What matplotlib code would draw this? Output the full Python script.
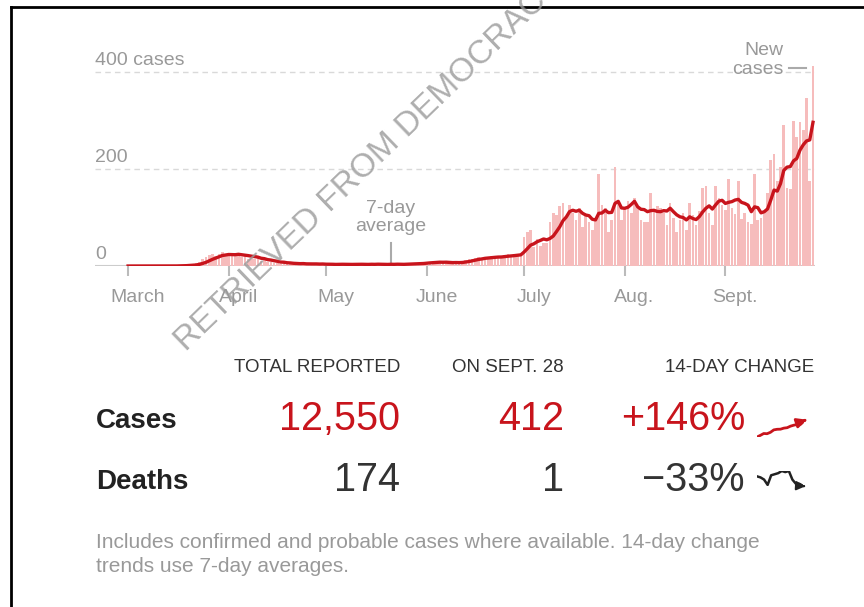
import matplotlib
matplotlib.use('Agg')
import matplotlib.pyplot as plt
import matplotlib.transforms as mtrans
from matplotlib.lines import Line2D
import pandas as pd

# daily new cases (one list per month)
cases_mar = [0, 0, 0, 0, 0, 0, 0, 0, 0, 0, 0, 0, 0, 0, 1, 0, 1, 2, 1, 3,
             2, 6, 9, 14, 18, 22, 25, 20, 24, 28, 22]
cases_apr = [25, 20, 24, 26, 18, 22, 15, 17, 14, 16, 10, 12, 8, 9, 7, 6, 5, 8, 4, 5,
             4, 5, 3, 6, 4, 3, 5, 4, 3, 4]
cases_may = [3, 4, 2, 3, 5, 4, 3, 2, 4, 3, 5, 4, 3, 2, 4, 3, 5, 4, 3, 2,
             4, 3, 5, 4, 3, 5, 4, 6, 5, 7, 6]
cases_jun = [8, 9, 7, 10, 8, 6, 7, 5, 6, 8, 9, 10, 12, 14, 15, 17, 18, 16, 19, 17,
             20, 18, 21, 19, 22, 24, 21, 25, 23, 27]
cases_jul = [60, 70, 75, 40, 55, 42, 48, 48, 90, 110, 105, 124, 130, 100, 126, 110, 95, 120, 80, 105,
             90, 75, 100, 190, 125, 120, 70, 94, 204, 130, 95]
cases_aug = [120, 135, 110, 140, 124, 95, 90, 90, 150, 115, 124, 120, 110, 85, 130, 100, 70, 95, 110, 75,
             130, 105, 85, 114, 160, 164, 110, 84, 165, 140, 125]
cases_sep = [115, 180, 120, 107, 175, 96, 110, 90, 86, 190, 95, 100, 113, 150, 218, 230, 175, 204, 290, 160,
             158, 300, 265, 296, 280, 346, 175, 412]

# 14-day trend of the deaths 7-day average (sparkline shape)
deaths_trend = [1.0, 0.95, 0.85, 0.6, 1.05, 1.1, 1.15, 1.25, 1.2, 1.25, 0.85, 0.65, 0.65, 0.55]

month_names = ['March', 'April', 'May', 'June', 'July', 'Aug.', 'Sept.']
grid_values = [0, 200, 400]
grid_labels = ['0', '200', '400 cases']

col_headers = ['TOTAL REPORTED', 'ON SEPT. 28', '14-DAY CHANGE']
row_labels = ['Cases', 'Deaths']
total_reported = ['12,550', '174']
on_sept_28 = ['412', '1']
change_14day = ['+146%', '\u221233%']
footnote = ['Includes confirmed and probable cases where available. 14-day change',
            'trends use 7-day averages.']

plt.rcParams['font.family'] = ['Liberation Sans', 'DejaVu Sans']

W, H = 864, 607
def fx(px):
    return px / W
def fy(py):
    return 1 - py / H

RED = '#c8141c'
BAR = '#f6bcbc'
GREY = '#999999'
DARK = '#333333'

daily = cases_mar + cases_apr + cases_may + cases_jun + cases_jul + cases_aug + cases_sep
dates = pd.date_range('2020-03-01', periods=len(daily), freq='D')
avg = pd.Series(daily, index=dates).rolling(7, min_periods=1).mean()

fig = plt.figure(figsize=(8.64, 6.07), dpi=100)

# chart area: 95..815 px wide, zero line at y=266 px, top at 60 px
day_px = 3.24
y_px = 0.485
ax = fig.add_axes([fx(95), fy(266), fx(815) - fx(95), fy(60) - fy(266)])
ax.set_xlim(dates[0] - pd.Timedelta(days=(128 - 95) / day_px),
            dates[-1] + pd.Timedelta(days=(815 - 813) / day_px))
ax.set_ylim(0, (266 - 60) / y_px)

def px_date(px):
    return dates[0] + pd.Timedelta(days=(px - 128) / day_px)

for v in grid_values[1:]:
    ax.axhline(v, color='#d9d9d9', lw=1, ls=(0, (4, 3)), zorder=0)
ax.axhline(0, color='#cccccc', lw=1.5, zorder=0)

ax.bar(dates, daily, width=0.82, color=BAR, linewidth=0, zorder=1)
ax.plot(dates, avg.values, color=RED, lw=2.4, solid_joinstyle='round', zorder=3)

ylab_tr = mtrans.blended_transform_factory(ax.transAxes, ax.transData)
for v, lab in zip(grid_values, grid_labels):
    ax.text(0, v + 24, lab, transform=ylab_tr, ha='left', va='center',
            fontsize=14, color=GREY)

for s in ax.spines.values():
    s.set_visible(False)
ax.set_yticks([])
month_starts = pd.date_range('2020-03-01', '2020-09-01', freq='MS')
ax.set_xticks(month_starts)
ax.set_xticklabels([])
ax.tick_params(axis='x', length=7, width=1.5, color='#bbbbbb')
xlab_tr = mtrans.blended_transform_factory(ax.transData, ax.transAxes)
for d, name in zip(month_starts, month_names):
    ax.text(d + pd.Timedelta(days=3), -(297 - 266) / 206, name, transform=xlab_tr,
            ha='center', va='center', fontsize=14, color=GREY)

# annotations
d7 = px_date(390)
ax.plot([d7, d7], [8, 47], color='#aaaaaa', lw=1.5)
ax.text(d7, 100, '7-day\naverage', ha='center', va='center', fontsize=14,
        color=GREY, linespacing=1.15)
ax.text(px_date(782), 425, 'New\ncases', ha='right', va='center', fontsize=14,
        color=GREY, linespacing=1.2, multialignment='right', clip_on=False)
ax.plot([px_date(788), px_date(805)], [408, 408], color='#aaaaaa', lw=1.5, clip_on=False)

# watermark
fig.text(fx(186), fy(352), 'RETRIEVED FROM DEMOCRACY', rotation=44,
         rotation_mode='anchor', ha='left', va='baseline', fontsize=24,
         color='#9a9a9a', alpha=0.8)

# table
for x, h in zip([400, 564, 814], col_headers):
    fig.text(fx(x), fy(367), h, ha='right', va='center', fontsize=13.5, color=DARK)
row_y = [421, 482]
row_col = [RED, DARK]
for i in range(2):
    fig.text(fx(96), fy(row_y[i]), row_labels[i], ha='left', va='center',
             fontsize=20, fontweight='bold', color='#222222')
    for x, val in zip([400, 564, 745], [total_reported[i], on_sept_28[i], change_14day[i]]):
        fig.text(fx(x), fy(row_y[i] - 2), val, ha='right', va='center',
                 fontsize=28.5, color=row_col[i])

# sparklines
sp1 = fig.add_axes([fx(757), fy(437), fx(804) - fx(757), fy(421) - fy(437)])
trend = avg.values[-15:]
sp1.plot(range(len(trend)), trend, color=RED, lw=2)
sp1.annotate('', xy=(len(trend) + 0.6, trend[-1] + 25), xytext=(len(trend) - 1.5, trend[-1] - 2),
             arrowprops=dict(arrowstyle='-|>', color=RED, lw=2, mutation_scale=14),
             annotation_clip=False)
sp1.set_ylim(min(trend), max(trend))
sp1.set_xlim(0, len(trend) - 1)
sp1.axis('off')

sp2 = fig.add_axes([fx(757), fy(486), fx(803) - fx(757), fy(471) - fy(486)])
sp2.plot(range(len(deaths_trend)), deaths_trend, color='#222222', lw=1.8)
sp2.annotate('', xy=(len(deaths_trend) + 0.5, deaths_trend[-1] - 0.02),
             xytext=(len(deaths_trend) - 1.5, deaths_trend[-1]),
             arrowprops=dict(arrowstyle='-|>', color='#222222', lw=1.5, mutation_scale=13),
             annotation_clip=False)
sp2.set_ylim(min(deaths_trend), max(deaths_trend))
sp2.set_xlim(0, len(deaths_trend) - 1)
sp2.axis('off')

# footnote
for k, line in enumerate(footnote):
    fig.text(fx(96), fy(542 + 25 * k), line, ha='left', va='center', fontsize=15, color=GREY)

# frame lines
fig.add_artist(Line2D([fx(11), fx(11)], [0, fy(7)], color='black', lw=2))
fig.add_artist(Line2D([fx(11), 1], [fy(7), fy(7)], color='black', lw=2))

fig.savefig('out.png', dpi=100)
